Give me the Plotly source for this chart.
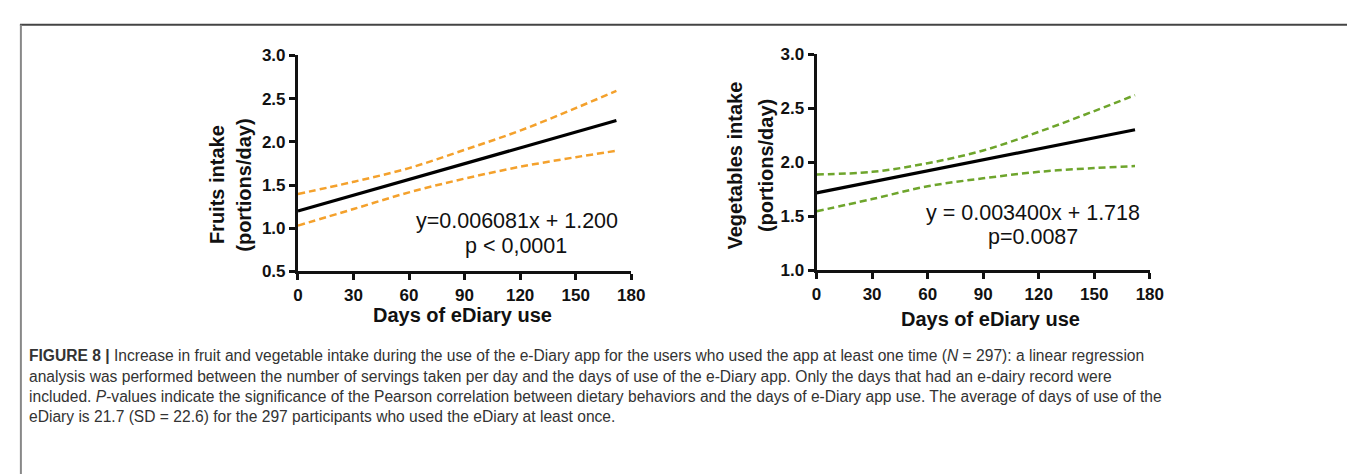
import plotly.graph_objects as go

W, H = 1355, 476

# ---------------- data ----------------
days_ci = [0, 30, 60, 90, 120, 150, 172]
fruit_fit_x = [0, 172]
fruit_fit_y = [1.200, 2.246]
fruit_upper = [1.396, 1.537, 1.696, 1.907, 2.130, 2.390, 2.590]
fruit_lower = [1.030, 1.222, 1.415, 1.574, 1.711, 1.822, 1.896]

veg_fit_x = [0, 172]
veg_fit_y = [1.718, 2.303]
veg_upper = [1.889, 1.913, 1.993, 2.111, 2.283, 2.476, 2.624]
veg_lower = [1.548, 1.661, 1.779, 1.853, 1.913, 1.948, 1.966]

x_ticks = [0, 30, 60, 90, 120, 150, 180]
fruit_y_ticks = [0.5, 1.0, 1.5, 2.0, 2.5, 3.0]
veg_y_ticks = [1.0, 1.5, 2.0, 2.5, 3.0]

caption_lines = [
    "<b>FIGURE 8 |</b> Increase in fruit and vegetable intake during the use of the e-Diary app for the users who used the app at least one time (<i>N</i> = 297): a linear regression",
    "analysis was performed between the number of servings taken per day and the days of use of the e-Diary app. Only the days that had an e-dairy record were",
    "included. <i>P</i>-values indicate the significance of the Pearson correlation between dietary behaviors and the days of e-Diary app use. The average of days of use of the",
    "eDiary is 21.7 (SD = 22.6) for the 297 participants who used the eDiary at least once.",
]

ORANGE = "#F4A12C"
GREEN = "#6EA52C"
FONT = "Liberation Sans"


def px(x):
    return x / W


def py(y):
    return 1 - y / H


fig = go.Figure()

dash_style = "7px,4px"
# left panel
fig.add_trace(go.Scatter(x=days_ci, y=fruit_upper, mode="lines", line=dict(color=ORANGE, width=2.5, dash=dash_style, shape="spline"), xaxis="x", yaxis="y", showlegend=False))
fig.add_trace(go.Scatter(x=days_ci, y=fruit_lower, mode="lines", line=dict(color=ORANGE, width=2.5, dash=dash_style, shape="spline"), xaxis="x", yaxis="y", showlegend=False))
fig.add_trace(go.Scatter(x=fruit_fit_x, y=fruit_fit_y, mode="lines", line=dict(color="black", width=3.2), xaxis="x", yaxis="y", showlegend=False))

# right panel
fig.add_trace(go.Scatter(x=days_ci, y=veg_upper, mode="lines", line=dict(color=GREEN, width=2.5, dash=dash_style, shape="spline"), xaxis="x2", yaxis="y2", showlegend=False))
fig.add_trace(go.Scatter(x=days_ci, y=veg_lower, mode="lines", line=dict(color=GREEN, width=2.5, dash=dash_style, shape="spline"), xaxis="x2", yaxis="y2", showlegend=False))
fig.add_trace(go.Scatter(x=veg_fit_x, y=veg_fit_y, mode="lines", line=dict(color="black", width=3.2), xaxis="x2", yaxis="y2", showlegend=False))

tickfont = dict(family=FONT, size=17, color="#111", weight="bold")
axis_common = dict(showline=True, linewidth=3, linecolor="#111", ticks="outside", ticklen=6, tickwidth=3,
                   tickcolor="#111", showgrid=False, zeroline=False, tickfont=tickfont)

fig.update_layout(
    width=W, height=H,
    margin=dict(l=0, r=0, t=0, b=0),
    paper_bgcolor="white", plot_bgcolor="white",
    xaxis=dict(domain=[px(289), px(627)], range=[0, 180], tickvals=x_ticks, anchor="y", **axis_common),
    yaxis=dict(domain=[py(265), py(40)], range=[0.5, 3.0], tickvals=fruit_y_ticks, ticktext=[f"{v:.1f}" for v in fruit_y_ticks], anchor="x", ticklabelstandoff=0, **axis_common),
    xaxis2=dict(domain=[px(815), px(1153)], range=[0, 180], tickvals=x_ticks, anchor="y2", **axis_common),
    yaxis2=dict(domain=[py(264), py(39)], range=[1.0, 3.0], tickvals=veg_y_ticks, ticktext=[f"{v:.1f}" for v in veg_y_ticks], anchor="x2", ticklabelstandoff=0, **axis_common),
)

ann = []
title_font = dict(family=FONT, size=20, color="#111", weight="bold")
eq_font = dict(family=FONT, size=21.5, color="#111")


def add_text(text, x, y, font, angle=0, xanchor="center"):
    ann.append(dict(text=text, x=px(x), y=py(y), xref="paper", yref="paper", showarrow=False,
                    font=font, textangle=angle, xanchor=xanchor, yanchor="middle"))


# axis titles
add_text("Days of eDiary use", 456, 310, title_font)
add_text("Days of eDiary use", 991, 315, title_font)
add_text("Fruits intake", 207, 175, title_font, angle=-90)
add_text("(portions/day)", 234, 175, title_font, angle=-90)
add_text("Vegetables intake", 732, 155, title_font, angle=-90)
add_text("(portions/day)", 764, 155, title_font, angle=-90)

# equations
add_text("y=0.006081x + 1.200", 511, 213, eq_font)
add_text("p < 0,0001", 510, 238, eq_font)
add_text("y = 0.003400x + 1.718", 1035, 204, eq_font)
add_text("p=0.0087", 1035, 229, eq_font)

# caption
cap_font = dict(family=FONT, size=15.6, color="#333")
for i, line in enumerate(caption_lines):
    add_text(line, 14, 353 + 21.2 * i, cap_font, xanchor="left")

fig.update_layout(annotations=ann)

# frame lines
fig.add_shape(type="line", xref="paper", yref="paper", x0=px(7), x1=1, y0=py(8), y1=py(8), line=dict(color="#444", width=2))
fig.add_shape(type="line", xref="paper", yref="paper", x0=px(8), x1=px(8), y0=py(8), y1=0, line=dict(color="#888", width=2))

fig.write_html("out.html")
